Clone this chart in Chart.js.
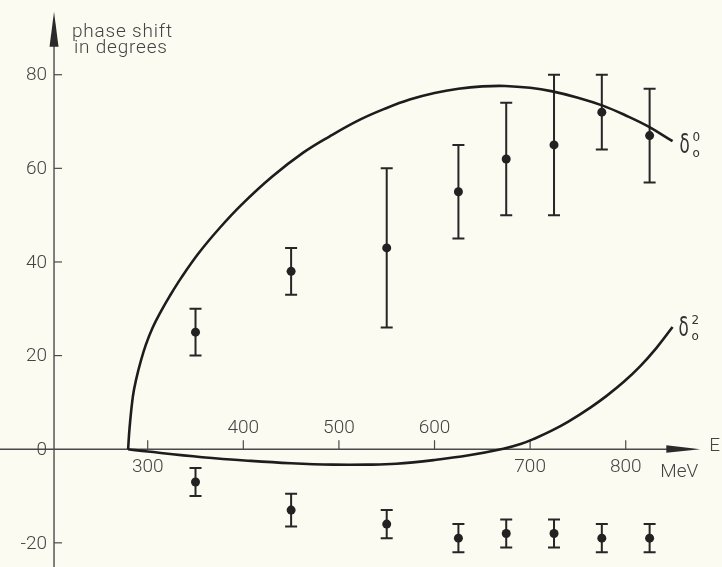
<!DOCTYPE html>
<html>
<head>
<meta charset="utf-8">
<script src="https://cdn.jsdelivr.net/npm/chart.js@4.4.1/dist/chart.umd.min.js"></script>
<style>
  html, body { margin: 0; padding: 0; background: #fbfbf1; }
  #wrap { width: 722px; height: 567px; }
</style>
</head>
<body>
<div id="wrap"><canvas id="phaseChart" width="722" height="567"></canvas></div>
<script>
// measured phase shifts (energy in MeV, degrees)
const energies = [350, 450, 550, 625, 675, 725, 775, 825];
const delta0Values = [25, 38, 43, 55, 62, 65, 72, 67];
const delta0Errors = [5, 5, 17, 10, 12, 15, 8, 10];
const delta2Values = [-7, -13, -16, -19, -18, -18, -19, -19];
const delta2Errors = [3, 3.5, 3, 3, 3, 3, 3, 3];

// theory curves
const curve0Energies = [279.5, 281, 284.5, 288, 293, 298, 305, 314, 323, 335, 353, 375, 398, 430, 463, 490, 522, 550, 574, 600, 625, 650, 674, 700, 722, 750, 776, 800, 823, 849];
const curve0Values = [0, 4.5, 11.3, 15, 19, 22.3, 25.9, 29.5, 32.7, 36.6, 41.8, 47.2, 52.2, 58.2, 63.4, 66.8, 70.4, 72.9, 74.7, 76.1, 77.0, 77.5, 77.6, 77.2, 76.5, 75.1, 73.4, 71.3, 69.0, 65.8];
const curve2Energies = [279.5, 300, 357, 408, 450, 494, 530, 560, 600, 636, 672, 690, 705, 722, 740, 763, 780, 798, 815, 832, 849];
const curve2Values = [0, -0.5, -1.7, -2.5, -3.0, -3.3, -3.3, -3.1, -2.3, -1.3, 0.1, 1.1, 2.3, 3.9, 5.9, 8.9, 11.4, 14.4, 17.7, 21.6, 26.1];

// axes
const xTicks = [300, 400, 500, 600, 700, 800];
const xTicksAbove = [400, 500, 600];
const yTicks = [-20, 0, 20, 40, 60, 80];
const axisOriginE = 202;
const yAxisTop = 93;
const xAxisEnd = 878;

const ink = '#1d1d1d';
const textInk = '#444';
const labelFont = '300 19px Roboto, "DejaVu Sans", sans-serif';

function toPoints(xs, ys) {
  return xs.map((x, i) => ({ x: x, y: ys[i] }));
}

const axesPlugin = {
  id: 'axesPlugin',
  beforeDraw(chart) {
    const ctx = chart.ctx;
    ctx.save();
    ctx.fillStyle = '#fbfbf1';
    ctx.fillRect(0, 0, chart.width, chart.height);
    ctx.restore();
  },
  beforeDatasetsDraw(chart) {
    const ctx = chart.ctx;
    const xs = chart.scales.x, ys = chart.scales.y;
    const ax = xs.getPixelForValue(axisOriginE);
    const ay = ys.getPixelForValue(0);
    const topY = ys.getPixelForValue(yAxisTop);
    const endX = xs.getPixelForValue(xAxisEnd);

    ctx.save();
    ctx.strokeStyle = '#4a4a4a';
    ctx.fillStyle = '#2a2a2a';
    ctx.lineWidth = 1.4;

    // y axis with arrow
    ctx.beginPath();
    ctx.moveTo(ax, chart.height);
    ctx.lineTo(ax, topY + 20);
    ctx.stroke();
    ctx.beginPath();
    ctx.moveTo(ax, topY - 2);
    ctx.lineTo(ax - 4.5, topY + 33);
    ctx.lineTo(ax + 4.5, topY + 33);
    ctx.closePath();
    ctx.fill();

    // x axis with arrow
    ctx.beginPath();
    ctx.moveTo(0, ay);
    ctx.lineTo(endX - 20, ay);
    ctx.stroke();
    ctx.beginPath();
    ctx.moveTo(endX, ay);
    ctx.lineTo(endX - 34, ay - 4);
    ctx.lineTo(endX - 34, ay + 3.5);
    ctx.closePath();
    ctx.fill();

    // ticks
    ctx.lineWidth = 1.2;
    yTicks.forEach(v => {
      if (v === 0) return;
      const py = ys.getPixelForValue(v);
      ctx.beginPath();
      ctx.moveTo(ax, py);
      ctx.lineTo(ax + 8, py);
      ctx.stroke();
    });
    xTicks.forEach(e => {
      const px = xs.getPixelForValue(e);
      ctx.beginPath();
      ctx.moveTo(px, ay);
      ctx.lineTo(px, ay - 9);
      ctx.stroke();
    });

    // tick labels
    ctx.fillStyle = textInk;
    ctx.font = labelFont;
    ctx.textAlign = 'right';
    ctx.textBaseline = 'middle';
    yTicks.forEach(v => {
      const label = v < 0 ? '-' + Math.abs(v) : String(v);
      ctx.fillText(label, ax - 7, ys.getPixelForValue(v) + 1);
    });
    ctx.textAlign = 'center';
    xTicks.forEach(e => {
      const px = xs.getPixelForValue(e);
      const py = xTicksAbove.includes(e) ? ay - 21 : ay + 18;
      ctx.fillText(String(e), px, py);
    });
    ctx.fillText('MeV', xs.getPixelForValue(xAxisEnd) - 21, ay + 23);
    ctx.textAlign = 'left';
    ctx.fillText('E', endX + 9, ay - 3);

    // axis title
    ctx.font = '300 19px Roboto, "DejaVu Sans", sans-serif';
    ctx.letterSpacing = '0.8px';
    ctx.textBaseline = 'alphabetic';
    ctx.fillText('phase shift', ax + 18, 37);
    ctx.fillText('in degrees', ax + 20, 53);
    ctx.letterSpacing = '0px';

    // error bars
    ctx.strokeStyle = '#262626';
    ctx.lineWidth = 2;
    const drawBars = (vals, errs) => {
      energies.forEach((e, i) => {
        const px = xs.getPixelForValue(e);
        const hi = ys.getPixelForValue(vals[i] + errs[i]);
        const lo = ys.getPixelForValue(vals[i] - errs[i]);
        ctx.beginPath();
        ctx.moveTo(px, hi); ctx.lineTo(px, lo);
        ctx.moveTo(px - 6, hi); ctx.lineTo(px + 6, hi);
        ctx.moveTo(px - 6, lo); ctx.lineTo(px + 6, lo);
        ctx.stroke();
      });
    };
    drawBars(delta0Values, delta0Errors);
    drawBars(delta2Values, delta2Errors);
    ctx.restore();
  },
  afterDatasetsDraw(chart) {
    const ctx = chart.ctx;
    const xs = chart.scales.x, ys = chart.scales.y;
    const drawDelta = (e, v, dx, dy, sup) => {
      const px = xs.getPixelForValue(e) + dx;
      const py = ys.getPixelForValue(v) + dy;
      ctx.save();
      ctx.fillStyle = '#333';
      ctx.font = '27px "DejaVu Sans", sans-serif';
      ctx.textBaseline = 'alphabetic';
      ctx.textAlign = 'left';
      ctx.translate(px, py);
      ctx.scale(0.62, 1);
      ctx.fillText('δ', 0, 0);
      ctx.restore();
      ctx.save();
      ctx.fillStyle = '#333';
      ctx.font = '12px "DejaVu Sans", sans-serif';
      ctx.textAlign = 'left';
      ctx.textBaseline = 'alphabetic';
      ctx.fillText(sup, px + 13, py - 12);
      ctx.fillText('o', px + 13, py + 4);
      ctx.restore();
    };
    const last0 = curve0Energies.length - 1;
    const last2 = curve2Energies.length - 1;
    drawDelta(curve0Energies[last0], curve0Values[last0], 7, 12, '0');
    drawDelta(curve2Energies[last2], curve2Values[last2], 6, 9, '2');
  }
};

new Chart(document.getElementById('phaseChart'), {
  type: 'scatter',
  data: {
    datasets: [
      {
        label: 'delta0 curve',
        data: toPoints(curve0Energies, curve0Values),
        showLine: true,
        borderColor: ink,
        borderWidth: 2.6,
        pointRadius: 0,
        tension: 0.4,
        fill: false
      },
      {
        label: 'delta2 curve',
        data: toPoints(curve2Energies, curve2Values),
        showLine: true,
        borderColor: ink,
        borderWidth: 2.6,
        pointRadius: 0,
        tension: 0.4,
        fill: false
      },
      {
        label: 'delta0 data',
        data: toPoints(energies, delta0Values),
        pointRadius: 4.5,
        pointBackgroundColor: '#222',
        pointBorderWidth: 0
      },
      {
        label: 'delta2 data',
        data: toPoints(energies, delta2Values),
        pointRadius: 4.5,
        pointBackgroundColor: '#222',
        pointBorderWidth: 0
      }
    ]
  },
  options: {
    responsive: false,
    animation: false,
    events: [],
    layout: { padding: 0 },
    scales: {
      x: { type: 'linear', min: 150.2, max: 896, display: false },
      y: { type: 'linear', min: -24.2, max: 95, display: false }
    },
    plugins: {
      legend: { display: false },
      tooltip: { enabled: false }
    }
  },
  plugins: [axesPlugin]
});
</script>
</body>
</html>
